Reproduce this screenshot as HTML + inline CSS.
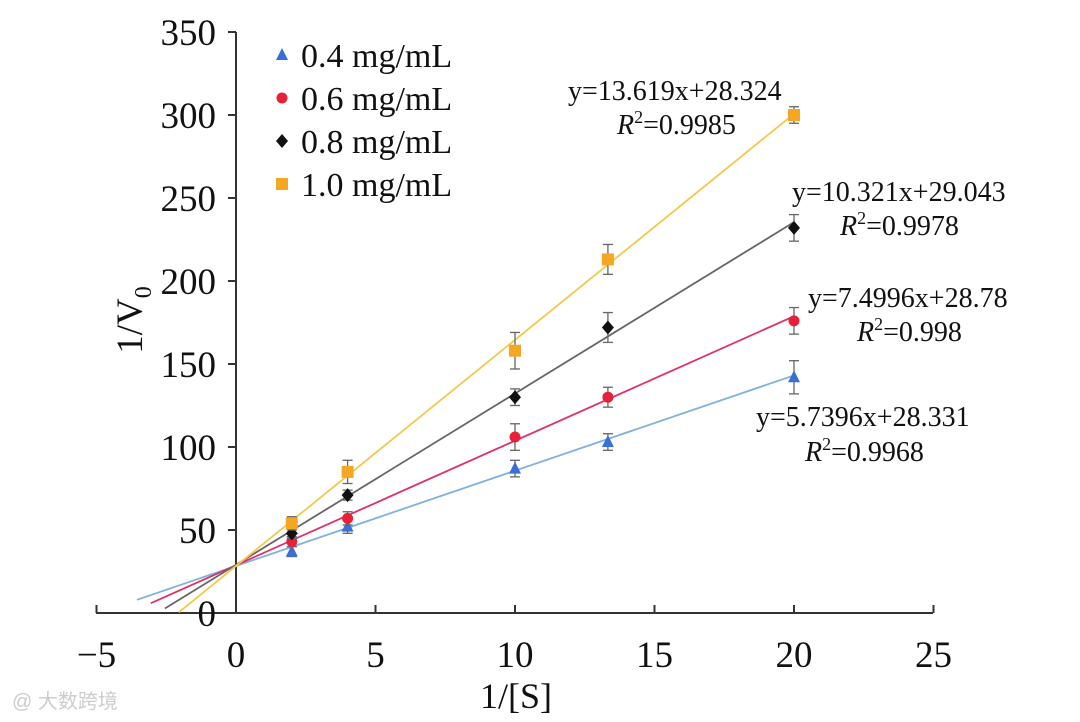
<!DOCTYPE html>
<html><head><meta charset="utf-8"><style>
html,body{margin:0;padding:0;background:#fff;}
svg{display:block;font-family:"Liberation Serif",serif;}
</style></head><body>
<svg id="c" width="1080" height="722" viewBox="0 0 1080 722"></svg>
<script>
const xTicks=[-5,0,5,10,15,20,25];
const yTicks=[0,50,100,150,200,250,300,350];
const xVals=[2,4,10,13.33,20];
const seriesNames=["0.4 mg/mL","0.6 mg/mL","0.8 mg/mL","1.0 mg/mL"];
const s04=[37,52,87,103,142];
const s06=[43,57,106,130,176];
const s08=[48,71,130,172,232];
const s10=[54,85,158,213,300];
const e04=[3,4,5,5,10];
const e06=[3,4,8,6,8];
const e08=[3,3,5,9,8];
const e10=[4,7,11,9,5];
const slopes=[5.7396,7.4996,10.321,13.619];
const intercepts=[28.331,28.78,29.043,28.324];
const lineStart=[-3.55,-3.05,-2.55,-2.05];
const eqText=["y=5.7396x+28.331","y=7.4996x+28.78","y=10.321x+29.043","y=13.619x+28.324"];
const r2Text=["=0.9968","=0.998","=0.9978","=0.9985"];
const colors=["#3a6fd8","#e8213a","#111","#f5a623"];
const lineColors=["#7fb2e0","#e0306a","#666","#f2c94c"];
const shapes=["tri","circ","diam","sq"];
const allS=[s04,s06,s08,s10], allE=[e04,e06,e08,e10];
const X=v=>236+(v)*27.9, Y=v=>613-v*1.66;
const svg=document.getElementById('c');const NS="http://www.w3.org/2000/svg";
function mk(t,a,p){const e=document.createElementNS(NS,t);for(const k in a)e.setAttribute(k,a[k]);(p||svg).appendChild(e);return e;}
let ax=mk('line',{x1:96,y1:613,x2:933,y2:613,stroke:'#333','stroke-width':2});


let ay=mk('line',{x1:236,y1:613,x2:236,y2:32,stroke:'#333','stroke-width':2});


xTicks.forEach(t=>{mk('line',{x1:X(t),y1:613,x2:X(t),y2:605,stroke:'#333','stroke-width':2});
 const tx=mk('text',{x:X(t),y:667,'font-size':37,'text-anchor':'middle',fill:'#111'});tx.textContent=(t<0?'\u2212'+(-t):t);
 
 });
yTicks.forEach(t=>{mk('line',{x1:236,y1:Y(t),x2:228,y2:Y(t),stroke:'#333','stroke-width':2});
 const tx=mk('text',{x:216,y:Y(t)+13,'font-size':37,'text-anchor':'end',fill:'#111'});tx.textContent=t;
 
 });
let xt=mk('text',{x:516,y:708,'font-size':36,'text-anchor':'middle',fill:'#111'});xt.textContent='1/[S]';


let yt=mk('text',{x:0,y:0,'font-size':37,'text-anchor':'middle',fill:'#111',transform:'translate(142,320) rotate(-90)'});
yt.innerHTML='1/V<tspan font-size="24" dy="9">0</tspan>';


function marker(sh,cx,cy,col,g){
 if(sh==='tri')return mk('polygon',{points:`${cx},${cy-7} ${cx-6},${cy+5} ${cx+6},${cy+5}`,fill:col},g);
 if(sh==='circ')return mk('circle',{cx,cy,r:5.5,fill:col},g);
 if(sh==='diam')return mk('polygon',{points:`${cx},${cy-7} ${cx+6},${cy} ${cx},${cy+7} ${cx-6},${cy}`,fill:col},g);
 return mk('rect',{x:cx-6,y:cy-6,width:12,height:12,fill:col},g);}
allS.forEach((s,i)=>{
 const g=mk('g',{});
 
 const fl=mk('line',{x1:X(lineStart[i]),y1:Y(slopes[i]*lineStart[i]+intercepts[i]),x2:X(20),y2:Y(slopes[i]*20+intercepts[i]),stroke:lineColors[i],'stroke-width':1.8},g);
 
 
 s.forEach((v,j)=>{const cx=X(xVals[j]),e=allE[i][j];
  mk('line',{x1:cx,y1:Y(v-e),x2:cx,y2:Y(v+e),stroke:'#666','stroke-width':1.3},g);
  mk('line',{x1:cx-5,y1:Y(v-e),x2:cx+5,y2:Y(v-e),stroke:'#666','stroke-width':1.3},g);
  mk('line',{x1:cx-5,y1:Y(v+e),x2:cx+5,y2:Y(v+e),stroke:'#666','stroke-width':1.3},g);
  const m=marker(shapes[i],cx,Y(v),colors[i],g);
  
  });
});
seriesNames.forEach((n,i)=>{const y=55+i*43;
 const m=marker(shapes[i],282,y,colors[i]);
 
 
 const t=mk('text',{x:301,y:y+12,'font-size':34,fill:'#111'});t.textContent=n;
 
 });
const eqPos=[[756,426,805,461],[808,307,857,341],[792,201,840,235],[568,100,617,134]];
eqPos.forEach((p,i)=>{
 const t=mk('text',{x:p[0],y:p[1],'font-size':28,fill:'#111'});t.textContent=eqText[i];
 
 
 const r=mk('text',{x:p[2],y:p[3],'font-size':28,fill:'#111'});
 r.innerHTML='<tspan font-style="italic">R</tspan><tspan font-size="18" dy="-11">2</tspan><tspan dy="11">'+r2Text[i]+'</tspan>';
 
 });
let wm=mk('text',{x:12,y:708,'font-size':20,fill:'#ccc','font-family':'Liberation Sans, Noto Sans CJK SC, sans-serif'});wm.textContent='\u0040\u00a0大数跨境';


</script>
</body></html>
